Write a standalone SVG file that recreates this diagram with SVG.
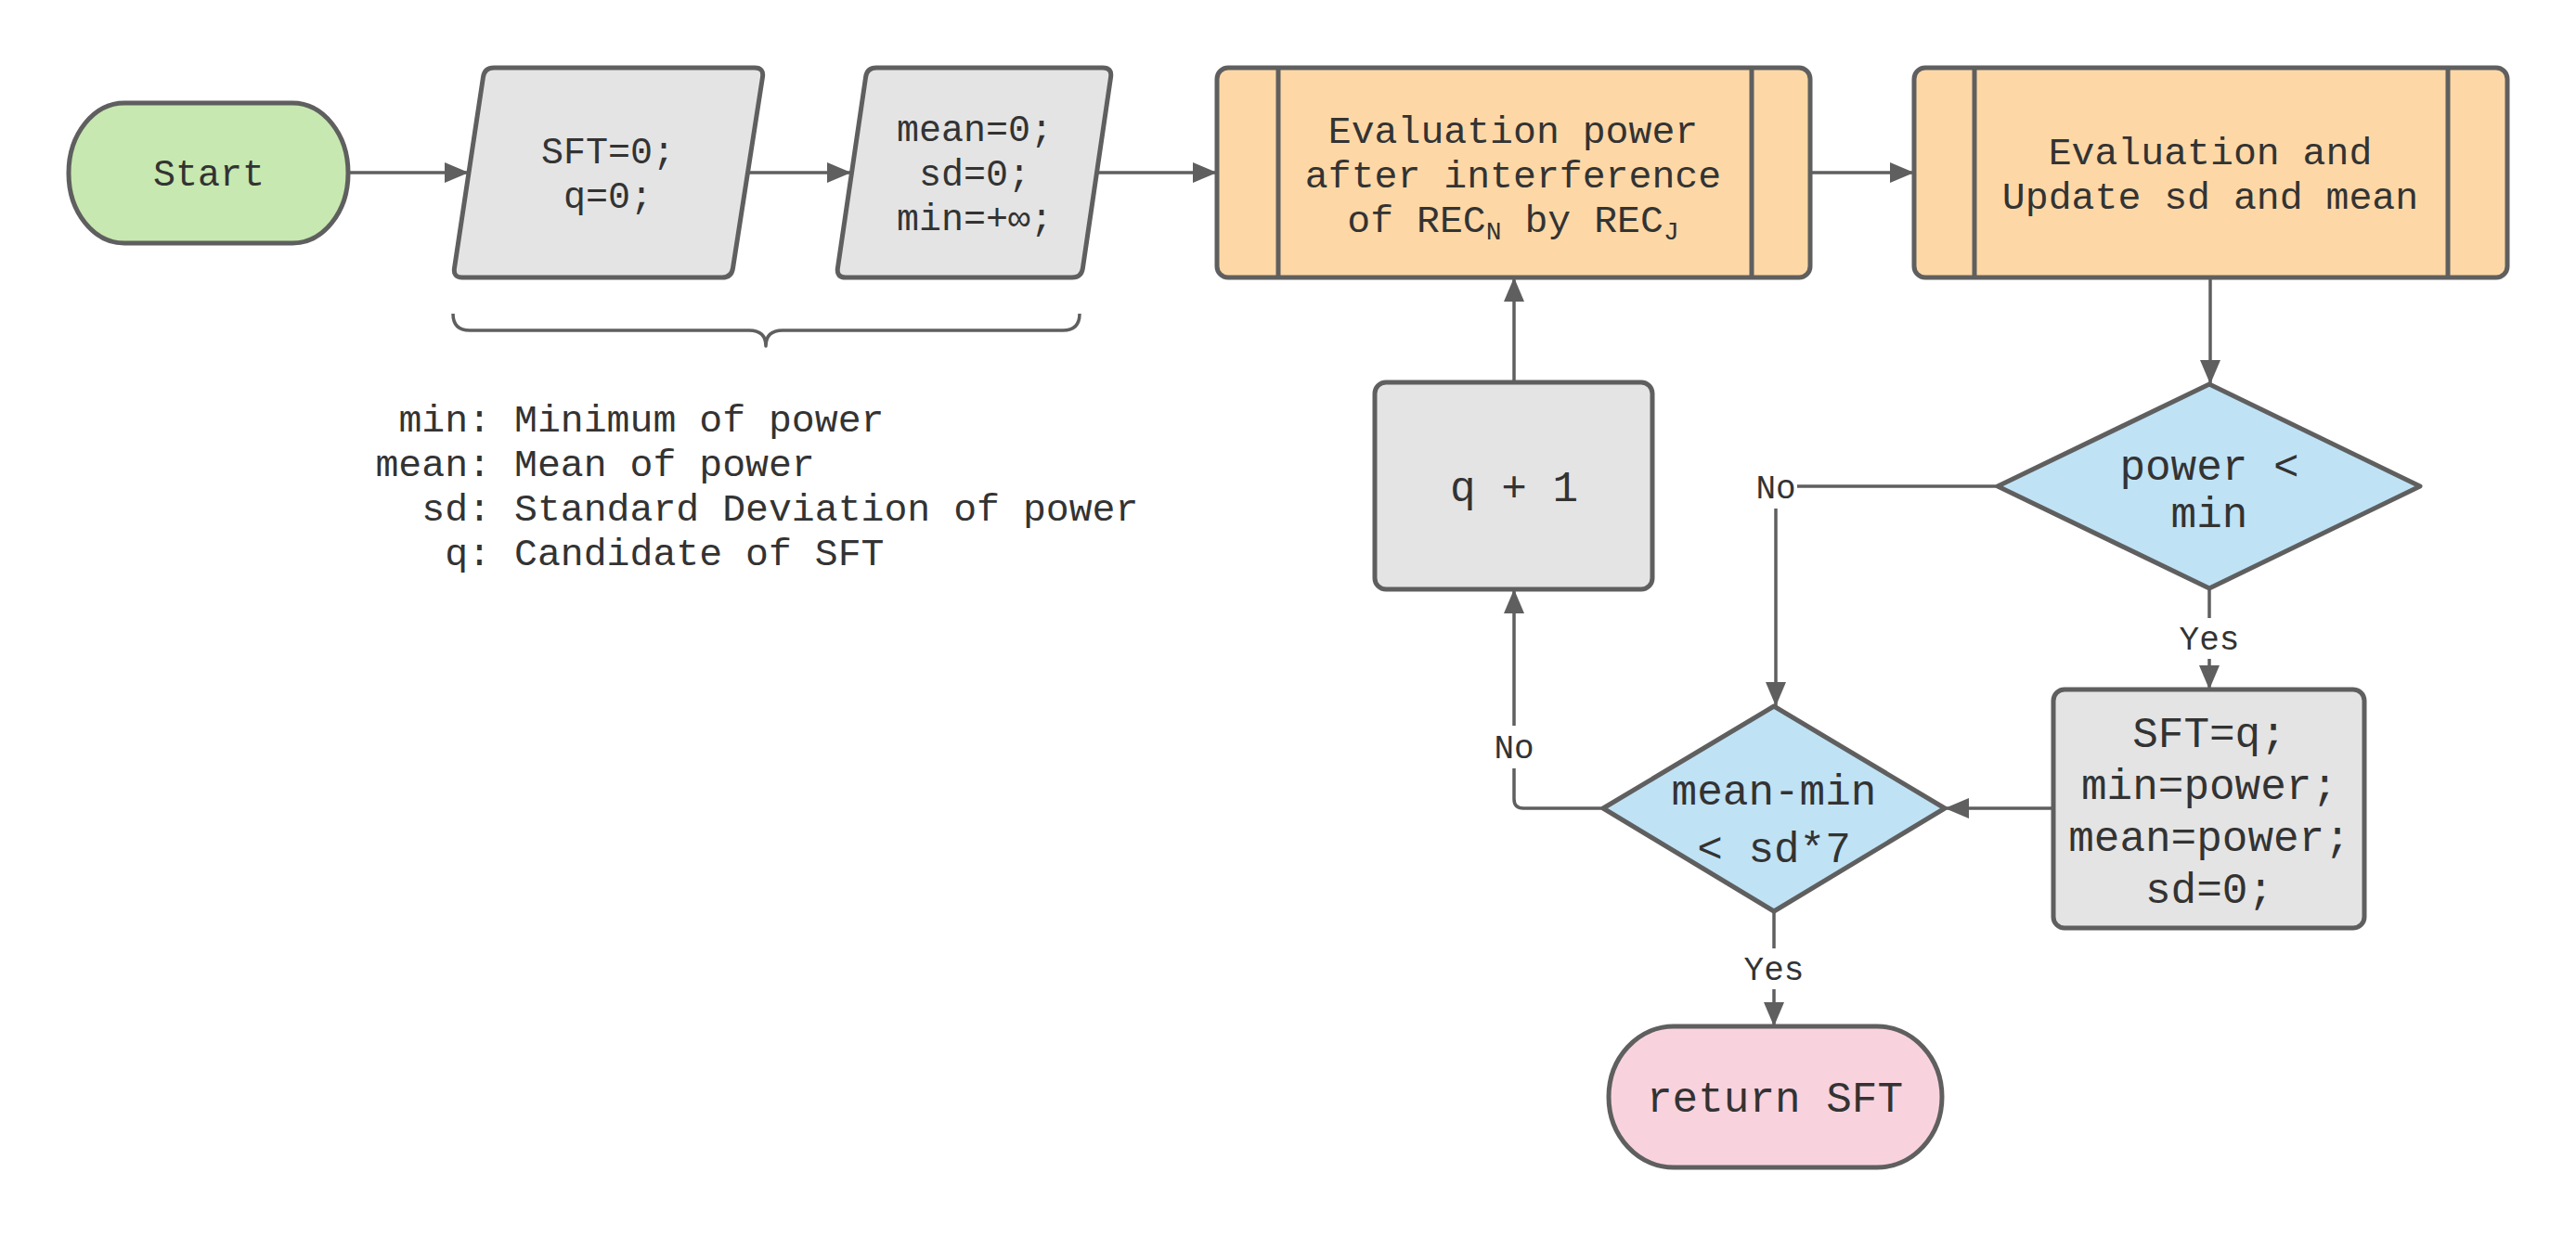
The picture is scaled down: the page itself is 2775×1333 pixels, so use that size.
<svg xmlns="http://www.w3.org/2000/svg" width="2775" height="1333" viewBox="0 0 2775 1333">
<defs>
<style>
.t{font-family:"Liberation Mono","DejaVu Sans Mono",monospace;fill:#333;text-anchor:middle}
.n{stroke:#5f5f5f;stroke-width:5;stroke-linejoin:round}
.c{fill:none;stroke:#5f5f5f;stroke-width:3.5;stroke-linejoin:round}
.f40{font-size:40px}
.f42{font-size:41.5px}
.f46{font-size:46px}
.lbl{font-size:36px}
.bg{fill:#fff}
</style>
<marker id="ah" markerUnits="userSpaceOnUse" markerWidth="26" markerHeight="22" viewBox="0 0 26 22" refX="26" refY="11" orient="auto">
<path d="M0,0 L26,11 L0,22 z" fill="#5f5f5f"/>
</marker>
</defs>
<rect width="2775" height="1333" fill="#fff"/>

<g id="connectors">
<path class="c" d="M375,186 H505" marker-end="url(#ah)"/>
<path class="c" d="M806,186 H917" marker-end="url(#ah)"/>
<path class="c" d="M1181,186 H1311" marker-end="url(#ah)"/>
<path class="c" d="M1950,186 H2062" marker-end="url(#ah)"/>
<path class="c" d="M2381,299 V414" marker-end="url(#ah)"/>
<path class="c" d="M2152,524 H1913 V761" marker-end="url(#ah)"/>
<path class="c" d="M2380,634 V743" marker-end="url(#ah)"/>
<path class="c" d="M2212,871 H2095" marker-end="url(#ah)"/>
<path class="c" d="M1727,871 H1641 Q1631,871 1631,861 V635" marker-end="url(#ah)"/>
<path class="c" d="M1631,412 V299" marker-end="url(#ah)"/>
<path class="c" d="M1911,982 V1106" marker-end="url(#ah)"/>
<rect class="bg" x="1890" y="502" width="46" height="46"/>
<text class="t lbl" x="1913" y="537">No</text>
<rect class="bg" x="2350" y="666" width="60" height="44"/>
<text class="t lbl" x="2380" y="700">Yes</text>
<rect class="bg" x="1608" y="782" width="46" height="46"/>
<text class="t lbl" x="1631" y="817">No</text>
<rect class="bg" x="1881" y="1022" width="60" height="44"/>
<text class="t lbl" x="1911" y="1056">Yes</text>
</g>

<g id="start">
<rect class="n" x="74" y="111" width="301" height="151" rx="60" ry="75" fill="#c7e8b0"/>
<text class="t f40" x="225" y="200">Start</text>
</g>

<g id="init1">
<path class="n" d="M532,73 H813 Q823,73 821.5,83 L789.5,289 Q788,299 778,299 H498 Q488,299 489.5,289 L520.5,83 Q522,73 532,73 Z" fill="#e4e4e4"/>
<text class="t f40" x="655" y="176">SFT=0;</text>
<text class="t f40" x="655" y="224">q=0;</text>
</g>

<g id="init2">
<path class="n" d="M944,73 H1188 Q1198,73 1196.6,83 L1166.4,289 Q1165,299 1155,299 H911 Q901,299 902.4,289 L932.6,83 Q934,73 944,73 Z" fill="#e4e4e4"/>
<text class="t f40" x="1050" y="152">mean=0;</text>
<text class="t f40" x="1050" y="200">sd=0;</text>
<text class="t f40" x="1050" y="248">min=+∞;</text>
</g>

<g id="brace">
<path class="c" d="M488,338 Q488,356 506,356 H807 Q825,356 825,373 Q825,356 843,356 H1145 Q1163,356 1163,338"/>
</g>

<g id="legend">
<text class="t f42" style="text-anchor:end" x="529" y="465">min:</text>
<text class="t f42" style="text-anchor:start" x="554" y="465">Minimum of power</text>
<text class="t f42" style="text-anchor:end" x="529" y="513">mean:</text>
<text class="t f42" style="text-anchor:start" x="554" y="513">Mean of power</text>
<text class="t f42" style="text-anchor:end" x="529" y="561">sd:</text>
<text class="t f42" style="text-anchor:start" x="554" y="561">Standard Deviation of power</text>
<text class="t f42" style="text-anchor:end" x="529" y="609">q:</text>
<text class="t f42" style="text-anchor:start" x="554" y="609">Candidate of SFT</text>
</g>

<g id="eval-power">
<rect class="n" x="1311" y="73" width="639" height="226" rx="12" fill="#fdd8a6"/>
<line class="n" x1="1377" y1="73" x2="1377" y2="299"/>
<line class="n" x1="1887" y1="73" x2="1887" y2="299"/>
<text class="t f42" x="1630" y="154">Evaluation power</text>
<text class="t f42" x="1630" y="202">after interference</text>
<text class="t f42" x="1630" y="250">of REC<tspan font-size="28" dy="8">N</tspan><tspan dy="-8"> by REC</tspan><tspan font-size="28" dy="8">J</tspan></text>
</g>

<g id="eval-update">
<rect class="n" x="2062" y="73" width="639" height="226" rx="12" fill="#fdd8a6"/>
<line class="n" x1="2127" y1="73" x2="2127" y2="299"/>
<line class="n" x1="2637" y1="73" x2="2637" y2="299"/>
<text class="t f42" x="2381" y="177">Evaluation and</text>
<text class="t f42" x="2381" y="225">Update sd and mean</text>
</g>

<g id="cond-min">
<path class="n" d="M2380,414 L2607,524 L2380,634 L2152,524 Z" fill="#c0e2f5"/>
<text class="t f46" x="2380" y="517">power &lt;</text>
<text class="t f46" x="2380" y="568">min</text>
</g>

<g id="update-min">
<rect class="n" x="2212" y="743" width="335" height="257" rx="12" fill="#e4e4e4"/>
<text class="t f46" x="2380" y="805">SFT=q;</text>
<text class="t f46" x="2380" y="861">min=power;</text>
<text class="t f46" x="2380" y="917">mean=power;</text>
<text class="t f46" x="2380" y="973">sd=0;</text>
</g>

<g id="cond-sd">
<path class="n" d="M1911,761 L2095,871 L1911,982 L1727,871 Z" fill="#c0e2f5"/>
<text class="t f46" x="1911" y="867">mean-min</text>
<text class="t f46" x="1911" y="929">&lt; sd*7</text>
</g>

<g id="q-inc">
<rect class="n" x="1481" y="412" width="299" height="223" rx="12" fill="#e4e4e4"/>
<text class="t f46" x="1631" y="540">q + 1</text>
</g>

<g id="return">
<rect class="n" x="1733" y="1106" width="359" height="152" rx="70" ry="76" fill="#f8d3de"/>
<text class="t f46" x="1912" y="1198">return SFT</text>
</g>
</svg>
